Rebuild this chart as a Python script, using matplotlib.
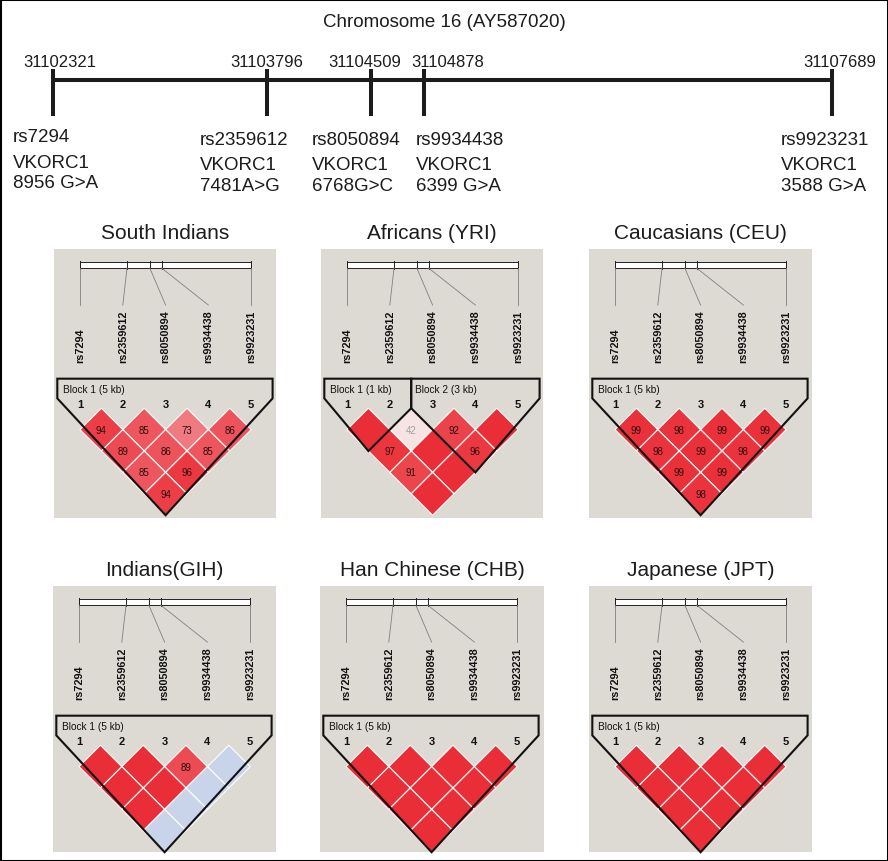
import matplotlib
matplotlib.use('Agg')
import matplotlib.pyplot as plt
from matplotlib.patches import Polygon, Rectangle
import numpy as np

plt.rcParams['font.family'] = ['Liberation Sans', 'DejaVu Sans']

# markers on chromosome 16 (AY587020)
snp_ids = ['rs7294', 'rs2359612', 'rs8050894', 'rs9934438', 'rs9923231']
snp_positions = [31102321, 31103796, 31104509, 31104878, 31107689]
snp_variants = ['8956 G>A', '7481A>G', '6768G>C', '6399 G>A', '3588 G>A']
gene_name = 'VKORC1'

# marker pairs in the order they sit in the LD plot (row by row)
ld_pairs = [(0, 1), (1, 2), (2, 3), (3, 4),
            (0, 2), (1, 3), (2, 4),
            (0, 3), (1, 4),
            (0, 4)]

# D' x 100 for every pair (100 is not printed in the cell)
dprime_south_indians = [94, 85, 73, 86, 89, 86, 85, 85, 96, 94]
dprime_yri = [100, 42, 92, 100, 97, 100, 96, 91, 100, 100]
dprime_ceu = [99, 98, 99, 99, 98, 99, 98, 99, 99, 98]
dprime_gih = [100, 100, 89, 100, 100, 100, 100, 100, 100, 100]
dprime_chb = [100, 100, 100, 100, 100, 100, 100, 100, 100, 100]
dprime_jpt = [100, 100, 100, 100, 100, 100, 100, 100, 100, 100]

# pairs with LOD < 2 (drawn blue)
lowlod_none = [0, 0, 0, 0, 0, 0, 0, 0, 0, 0]
lowlod_gih = [0, 0, 0, 1, 0, 0, 1, 0, 1, 1]

# haplotype blocks: first marker, last marker, label
blocks_one = [(0, 4, 'Block 1 (5 kb)')]
blocks_yri = [(0, 1, 'Block 1 (1 kb)'), (2, 4, 'Block 2 (3 kb)')]

populations = ['South Indians', 'Africans (YRI)', 'Caucasians (CEU)',
               'Indians(GIH)', 'Han Chinese (CHB)', 'Japanese (JPT)']
pop_dprime = [dprime_south_indians, dprime_yri, dprime_ceu,
              dprime_gih, dprime_chb, dprime_jpt]
pop_lowlod = [lowlod_none, lowlod_none, lowlod_none,
              lowlod_gih, lowlod_none, lowlod_none]
pop_blocks = [blocks_one, blocks_yri, blocks_one,
              blocks_one, blocks_one, blocks_one]

# ---- layout (pixels) ----
W, H = 888, 862
panel_boxes = [(54, 250, 222, 269), (321, 250, 222, 269), (589, 250, 223, 269),
               (53, 587, 223, 266), (320, 587, 224, 266), (589, 587, 223, 266)]
unit = 42.8          # pixels between two markers in the LD plots
first_snp_px = 26
panel_gray = '#dddad4'
ld_red = np.array([234, 46, 55]) / 255
ld_pale = np.array([246, 228, 228]) / 255
ld_blue = '#c9d3e9'
ink = '#1c1c1c'

# label offsets on the map (px), just to keep them readable
num_dx = [6.5, 0, -6, 24, 8]
name_dx = [-40, -67, -59, -8, -51]
name_dy = [-3, 0, 0, 0, 0]


def ld_color(d, low):
    if low:
        return ld_blue
    t = np.clip((d / 100 - 0.5) / 0.5, 0, 1) ** 0.7
    return tuple(ld_pale * (1 - t) + ld_red * t)


fig = plt.figure(figsize=(W / 100, H / 100), dpi=100)
fig.patch.set_facecolor('white')

# ---- chromosome map ----
ax_map = fig.add_axes([0, 0, 1, 1])
ax_map.set_axis_off()
map_left, map_right = 53, 832
bp_per_px = (snp_positions[-1] - snp_positions[0]) / (map_right - map_left)
ax_map.set_xlim(snp_positions[0] - map_left * bp_per_px,
                snp_positions[0] + (W - map_left) * bp_per_px)
ax_map.set_ylim(H, 0)

ax_map.plot([snp_positions[0], snp_positions[-1]], [81, 81], color=ink,
            lw=2.9, solid_capstyle='butt')
ax_map.vlines(snp_positions, 70, 117, color=ink, lw=2.9)

for k, p in enumerate(snp_positions):
    ax_map.text(p + num_dx[k] * bp_per_px, 66.7, str(p), ha='center',
                va='baseline', fontsize=12, color=ink)
    x_txt = p + name_dx[k] * bp_per_px
    ax_map.text(x_txt, 145 + name_dy[k], snp_ids[k], ha='left', va='baseline',
                fontsize=13.5, color=ink)
    ax_map.text(x_txt, 170.5 + name_dy[k], gene_name, ha='left', va='baseline',
                fontsize=13.5, color=ink)
    ax_map.text(x_txt, 191 + name_dy[k], snp_variants[k], ha='left',
                va='baseline', fontsize=13.5, color=ink)

fig.text(0.5, 1 - 26.7 / H, 'Chromosome 16 (AY587020)', ha='center',
         va='baseline', fontsize=13.5, color=ink)

# ---- LD plots ----
snp_x = np.arange(len(snp_ids))
bar_x = 4 * (np.array(snp_positions) - snp_positions[0]) / (snp_positions[-1] - snp_positions[0])
bar_top, bar_bot = 0.297, 0.444
block_top = 3.03
row_top = 3.72


def block_outline(a, b):
    L = a - 0.5 - (0.03 if a == 0 else 0)
    R = b + 0.5
    c = (a + b) / 2
    yb = row_top + 0.5 * (b - a) + 0.5
    yl = 3.49 if a == 0 else yb - (c - L)
    yr = 3.49 if b == 4 else yb - (R - c)
    return [(L, block_top), (R, block_top), (R, yr), (c, yb), (L, yl)]


for box, title, dp, low, blocks in zip(panel_boxes, populations, pop_dprime,
                                       pop_lowlod, pop_blocks):
    left, top, w, h = box
    ax = fig.add_axes([left / W, 1 - (top + h) / H, w / W, h / H])
    ax.set_xlim(-first_snp_px / unit, (w - first_snp_px) / unit)
    ax.set_ylim(h / unit, 0)
    ax.set_facecolor(panel_gray)
    ax.set_xticks([])
    ax.set_yticks([])
    for s in ax.spines.values():
        s.set_visible(False)

    # gene track with marker positions
    ax.add_patch(Rectangle((0, bar_top), 4, bar_bot - bar_top, facecolor='white',
                           edgecolor='#222222', lw=0.7))
    for bx, sx, name in zip(bar_x, snp_x, snp_ids):
        ax.plot([bx, bx], [bar_top - 0.02, bar_bot + 0.02], color='#222222', lw=0.7)
        ax.plot([bx, sx], [bar_bot, 1.31], color='#808080', lw=0.6)
        ax.text(sx, 2.64, name, rotation=90, ha='center', va='bottom',
                fontsize=7.8, fontweight='bold', color='#111111')
        ax.text(sx, 3.62, str(sx + 1), ha='center', va='center', fontsize=8,
                fontweight='bold', color='#111111')

    # pairwise D' cells
    for (i, j), d, lo in zip(ld_pairs, dp, low):
        cx = (i + j) / 2
        cy = row_top + 0.5 * (j - i)
        ax.add_patch(Polygon([(cx, cy - 0.5), (cx + 0.5, cy), (cx, cy + 0.5),
                              (cx - 0.5, cy)], closed=True,
                             facecolor=ld_color(d, lo), edgecolor='white', lw=0.8))
        if d < 100:
            ax.text(cx, cy, str(d), ha='center', va='center', fontsize=7,
                    color='#2e0e0e' if d >= 50 else '#a0a0a0')

    # haplotype blocks
    for a, b, label in blocks:
        ax.add_patch(Polygon(block_outline(a, b), closed=True, fill=False,
                             edgecolor='#111111', lw=1.5, joinstyle='miter',
                             clip_on=False, zorder=5))
        ax.text(a - 0.4, 3.27, label, ha='left', va='center', fontsize=7.3,
                color='#111111')

    fig.text((left + w / 2) / W, 1 - (top - 10.8) / H, title, ha='center',
             va='baseline', fontsize=15, color=ink)

fig.add_artist(Rectangle((0, 0), 1, 1, transform=fig.transFigure, fill=False,
                         edgecolor='black', lw=2.2))

fig.savefig('out.png', dpi=100, facecolor='white')
